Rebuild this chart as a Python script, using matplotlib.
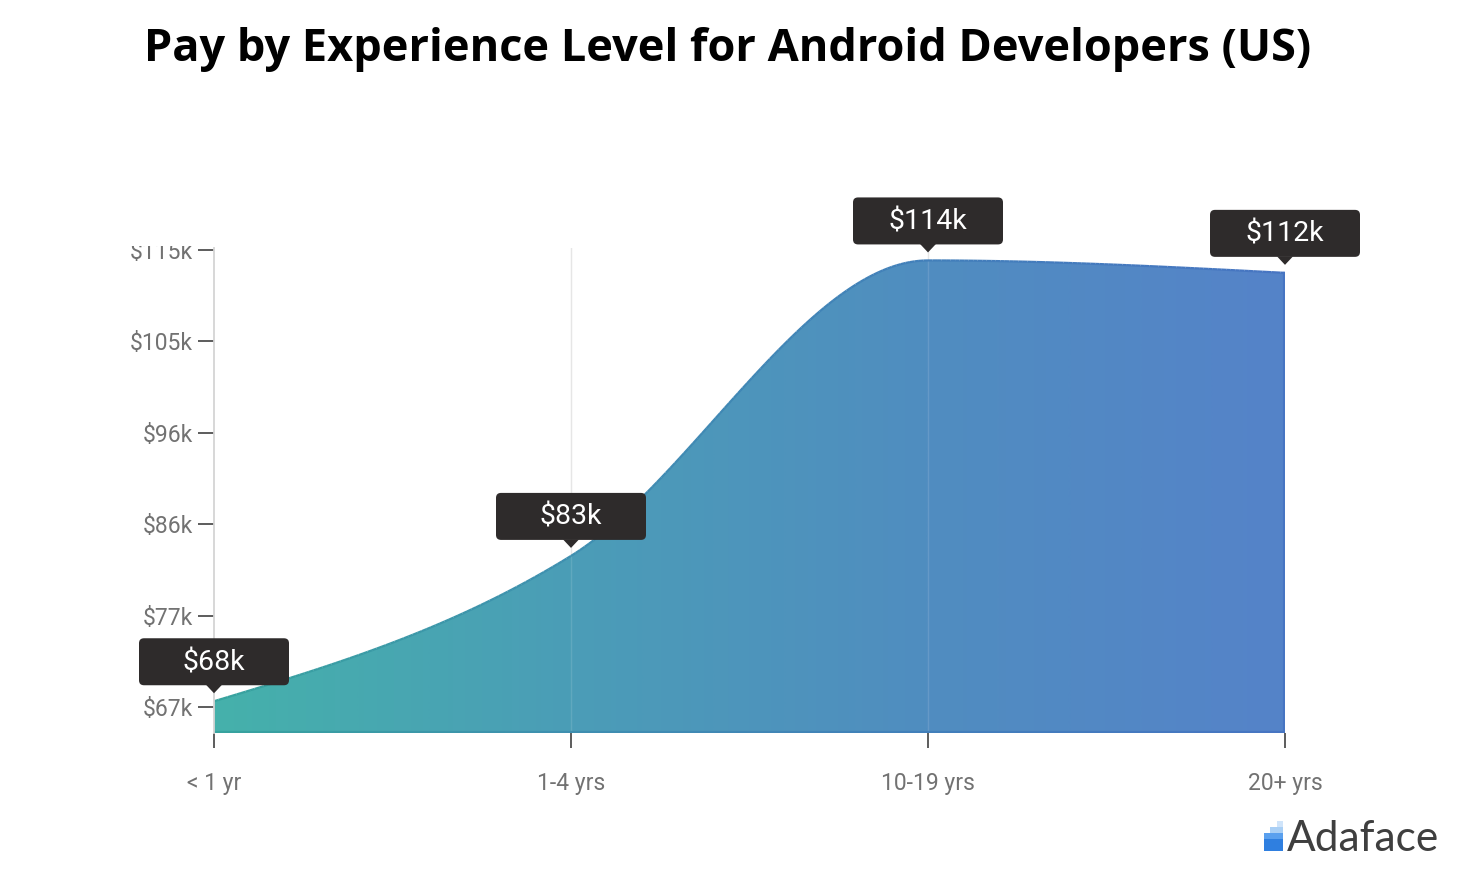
import numpy as np
import matplotlib
matplotlib.use("Agg")
import matplotlib.pyplot as plt
from matplotlib.patches import FancyBboxPatch, Polygon, Rectangle
from matplotlib.collections import LineCollection
from matplotlib.colors import LinearSegmentedColormap
import matplotlib.transforms as mtransforms

# ---------------- data ----------------
categories = ["< 1 yr", "1-4 yrs", "10-19 yrs", "20+ yrs"]
salaries_k = [67.6, 82.8, 113.7, 112.4]
point_labels = ["$68k", "$83k", "$114k", "$112k"]
y_ticks_k = [67.0, 76.56, 86.12, 95.68, 105.24, 114.8]
y_tick_labels = ["$67k", "$77k", "$86k", "$96k", "$105k", "$115k"]
title = "Pay by Experience Level for Android Developers (US)"
brand = "Adaface"

# ---------------- helpers ----------------
def monotone_x(xs, ys, n=80):
    """d3 curveMonotoneX equivalent (cubic Bezier segments)."""
    xs = np.asarray(xs, float); ys = np.asarray(ys, float)
    h = np.diff(xs); s = np.diff(ys) / h
    t = np.zeros(len(xs))
    for i in range(1, len(xs) - 1):
        if s[i - 1] * s[i] <= 0:
            t[i] = 0.0
        else:
            p = (s[i - 1] * h[i] + s[i] * h[i - 1]) / (h[i - 1] + h[i])
            t[i] = (np.sign(s[i - 1]) + np.sign(s[i])) * min(abs(s[i - 1]), abs(s[i]), 0.5 * abs(p))
    t[0] = (3 * s[0] - t[1]) / 2
    t[-1] = (3 * s[-1] - t[-2]) / 2
    px, py = [], []
    u = np.linspace(0, 1, n)
    for i in range(len(xs) - 1):
        dx = h[i] / 3
        P = [(xs[i], ys[i]), (xs[i] + dx, ys[i] + dx * t[i]),
             (xs[i + 1] - dx, ys[i + 1] - dx * t[i + 1]), (xs[i + 1], ys[i + 1])]
        b = [(1 - u) ** 3, 3 * u * (1 - u) ** 2, 3 * u ** 2 * (1 - u), u ** 3]
        bx = sum(b[k] * P[k][0] for k in range(4))
        by = sum(b[k] * P[k][1] for k in range(4))
        if i > 0:
            bx, by = bx[1:], by[1:]
        px.append(bx); py.append(by)
    return np.concatenate(px), np.concatenate(py)

# ---------------- figure ----------------
W, H = 1458, 872
DPI = 100
fig = plt.figure(figsize=(W / DPI, H / DPI), dpi=DPI)
fig.patch.set_facecolor("white")

L, R, T, B = 214, 1285, 248, 733
ax = fig.add_axes([L / W, 1 - B / H, (R - L) / W, (B - T) / H])
x = np.arange(len(categories))
ymin, ymax = 64.28, 115.0
ax.set_xlim(0, len(categories) - 1)
ax.set_ylim(ymin, ymax)
ax.set_facecolor("none")

cx, cy = monotone_x(x, salaries_k)

# gradient fill
fill_cmap = LinearSegmentedColormap.from_list("fill", ["#45b1ab", "#4b9db7", "#508dc0", "#5583c9"])
line_cmap = LinearSegmentedColormap.from_list("line", ["#37a39e", "#3f8fb0", "#427fba", "#4775c2"])
grad = np.linspace(0, 1, 512).reshape(1, -1)
im = ax.imshow(grad, extent=[0, x[-1], ymin, ymax], aspect="auto", cmap=fill_cmap,
               origin="lower", zorder=2, interpolation="bilinear")
poly_xy = np.column_stack([np.r_[cx, x[-1], 0], np.r_[cy, ymin, ymin]])
poly = Polygon(poly_xy, closed=True, facecolor="none", edgecolor="none")
ax.add_patch(poly)
im.set_clip_path(poly)

# gridlines
for xi in x[1:-1]:
    ax.plot([xi, xi], [ymin, ymax], color="#e3e3e3", lw=1.0, zorder=1)
    ax.plot([xi, xi], [ymin, ymax], color="white", lw=1.0, alpha=0.12, zorder=3)

# curve outline with gradient
pts = np.column_stack([cx, cy]).reshape(-1, 1, 2)
segs = np.concatenate([pts[:-1], pts[1:]], axis=1)
lc = LineCollection(segs, cmap=line_cmap, norm=plt.Normalize(0, x[-1]), linewidth=1.6, zorder=4)
lc.set_array((cx[:-1] + cx[1:]) / 2)
ax.add_collection(lc)
# bottom and right edges
bx = np.linspace(0, x[-1], 200)
bpts = np.column_stack([bx, np.full_like(bx, ymin + 0.08)]).reshape(-1, 1, 2)
bsegs = np.concatenate([bpts[:-1], bpts[1:]], axis=1)
blc = LineCollection(bsegs, cmap=line_cmap, norm=plt.Normalize(0, x[-1]), linewidth=1.6, zorder=4)
blc.set_array((bx[:-1] + bx[1:]) / 2)
ax.add_collection(blc)
ax.plot([x[-1] - 0.002, x[-1] - 0.002], [ymin, salaries_k[-1]], color="#4775c2", lw=1.6, zorder=4)

# spines and ticks
for s in ["top", "right", "bottom"]:
    ax.spines[s].set_visible(False)
ax.spines["left"].set_color("#d4d4d4")
ax.spines["left"].set_linewidth(1.3)
ax.spines["left"].set_zorder(5)

tick_font = dict(family=["Roboto", "DejaVu Sans"], size=16.5)
ax.set_yticks(y_ticks_k)
ax.set_yticklabels(y_tick_labels, color="#727272", **tick_font)
ax.set_xticks(x)
ax.set_xticklabels(categories, color="#727272", **tick_font)
ax.tick_params(axis="y", length=11.5, width=1.4, color="#5c5c5c", pad=3.5)
ax.tick_params(axis="x", length=11, width=1.4, color="#5c5c5c", pad=17)

# hide top part of the clipped $115k label
fig.patches.append(Rectangle((95, H - 246), 108, 40, transform=mtransforms.IdentityTransform(),
                             facecolor="white", edgecolor="none", zorder=10))

# tooltip boxes
ident = mtransforms.IdentityTransform()
for xi, v, lab in zip(x, salaries_k, point_labels):
    px, py = ax.transData.transform((xi, v))
    bw, bh = 150, 47
    gap = 16
    box = FancyBboxPatch((px - bw / 2, py + gap), bw, bh,
                         boxstyle="round,pad=0,rounding_size=5",
                         transform=ident, facecolor="#2e2b2b", edgecolor="none", zorder=11)
    fig.patches.append(box)
    tri = Polygon([[px - 8, py + gap + 0.5], [px + 8, py + gap + 0.5], [px, py + gap - 8]],
                  closed=True, transform=ident, facecolor="#2e2b2b", edgecolor="none", zorder=11)
    fig.patches.append(tri)
    fig.text((px) / W, (py + gap + bh / 2 - 1) / H, lab, ha="center", va="center",
             color="white", family=["Roboto", "DejaVu Sans"], size=20.5, zorder=12)

# title
fig.text(728 / W, 1 - 50 / H, title, ha="center", va="center",
         family=["Open Sans", "DejaVu Sans"], weight="bold", size=32.5, color="black")

# brand logo
fig.text(1287 / W, 1 - 851 / H, brand, ha="left", va="baseline",
         family=["Lato", "DejaVu Sans"], weight="normal", size=30.5, color="#3f3f3f")
cells = [
    (1264, 833, 6, 6, "#5aa0ee"), (1264, 839, 6, 12, "#2f7fe0"),
    (1270, 827, 7, 6, "#a9cff5"), (1270, 833, 7, 6, "#5aa0ee"), (1270, 839, 7, 12, "#2f7fe0"),
    (1277, 821, 6, 6, "#cfe4fa"), (1277, 827, 6, 6, "#a9cff5"), (1277, 833, 6, 6, "#5aa0ee"),
    (1277, 839, 6, 12, "#2f7fe0"),
]
for (cx0, cy0, cw, ch, col) in cells:
    fig.patches.append(Rectangle((cx0, H - cy0 - ch), cw, ch, transform=ident,
                                 facecolor=col, edgecolor="none", zorder=10))

fig.savefig("out.png", dpi=DPI)
